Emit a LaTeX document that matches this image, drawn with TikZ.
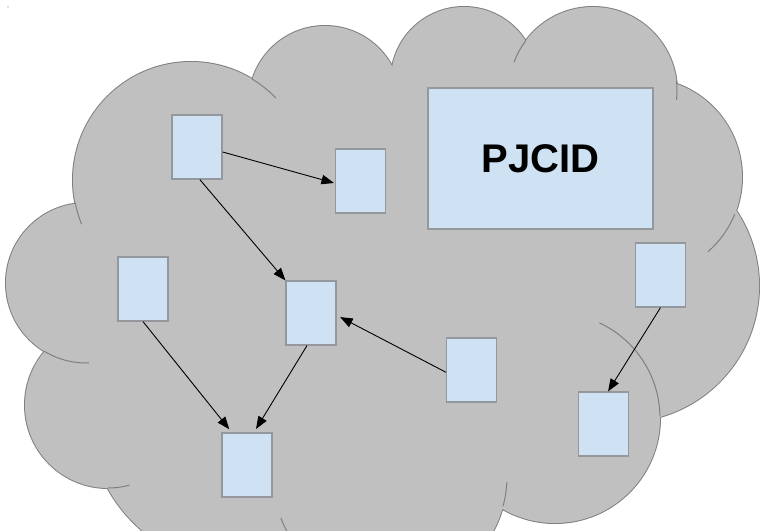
\documentclass[tikz,border=0pt]{standalone}
\usepackage{fontspec}
\setmainfont{Liberation Sans}
\usetikzlibrary{arrows.meta}

\definecolor{cloudfill}{RGB}{192,192,192}
\definecolor{cloudline}{RGB}{128,128,128}
\definecolor{boxfill}{RGB}{207,226,243}
\definecolor{boxline}{RGB}{148,152,156}

\begin{document}
\begin{tikzpicture}[x=1pt, y=-1pt,
        lobe/.style={draw=cloudline, line width=2pt},
        stub/.style={draw=cloudline, line width=1pt},
        block/.style={rectangle, draw=boxline, fill=boxfill, line width=1.2pt, inner sep=0pt, minimum width=50pt, minimum height=64pt},
        link/.style={-{Triangle[length=12.5pt,width=9.5pt]}, line width=0.9pt}]
        \useasboundingbox (0,0) rectangle (760,530);
        \fill[cloudline] (8,7) circle (0.6);

        % Cloud: lobes (centre x / centre y / radius)
        \def\lobes{191/180/118, 325/102/76, 464/80/73, 593/91/84, 643/177/99, 623/286/136,
                   555/418/105, 390/476/117, 241/415/152, 108/405/83, 86/283/80}
        \begin{scope}
            \clip (0,0) rectangle (760,530);
            \foreach \cx/\cy/\r in \lobes
                \draw[lobe] (\cx,\cy) circle (\r);
            \foreach \cx/\cy/\r in \lobes
                \fill[cloudfill] (\cx,\cy) circle (\r);
            \fill[cloudfill] (191,180) -- (325,102) -- (464,80) -- (593,91) -- (643,177) -- (623,286)
                -- (555,418) -- (390,476) -- (241,415) -- (108,405) -- (86,283) -- cycle;
            % Inner ends of the lobe arcs
            \foreach \cx/\cy/\r/\a/\b in {191/180/118/-59/-44, 191/180/118/169/158, 593/91/84/217/200,
                    593/91/84/-7/6, 643/177/99/22/49, 555/418/105/-65/-1, 390/476/117/3/15,
                    390/476/117/159/125, 108/405/83/75/90, 86/283/80/88/122}
                \draw[stub] (\cx,\cy) ++(\a:\r) arc[start angle=\a, end angle=\b, radius=\r];
        \end{scope}

        % Boxes
        \node[block] (upleft) at (197,147) {};
        \node[block] (upmid) at (360.5,181) {};
        \node[block, minimum width=225pt, minimum height=141pt, font=\bfseries\fontsize{40}{48}\selectfont] (pjcid) at (540.5,158.5) {PJCID};
        \node[block] (farright) at (660.5,275) {};
        \node[block] (midleft) at (143,289) {};
        \node[block] (centre) at (311,313) {};
        \node[block] (midright) at (471.5,370) {};
        \node[block] (lowright) at (603.5,424) {};
        \node[block] (bottom) at (247,465) {};

        % Links
        \draw[link, shorten >=1pt] (upleft.-11) -- (upmid.185);
        \draw[link] (upleft.-85) -- (centre.north west);
        \draw[link, shorten >=4pt] (midleft.south) -- (bottom.115);
        \draw[link, shorten >=4pt] (centre.-97) -- (bottom.78);
        \draw[link, shorten >=4pt] (midright.185) -- (centre.-5);
        \draw[link] (farright.south) -- (lowright.82);
\end{tikzpicture}
\end{document}
